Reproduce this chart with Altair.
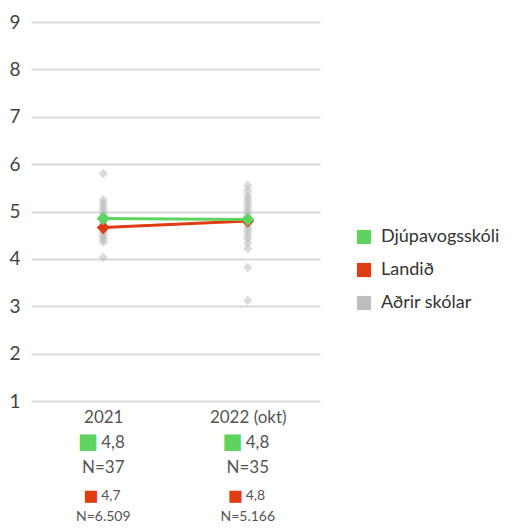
import altair as alt
import pandas as pd

years = ["2021", "2022 (okt)"]
school_name = "Djúpavogsskóli"
national_name = "Landið"
others_name = "Aðrir skólar"
school_vals = [4.85, 4.83]
national_vals = [4.66, 4.80]
school_lbl = ["4,8", "4,8"]
school_n = ["N=37", "N=35"]
national_lbl = ["4,7", "4,8"]
national_n = ["N=6.509", "N=5.166"]
others_2021 = [5.8, 5.25, 5.18, 5.12, 5.06, 5.0, 4.95, 4.9, 4.85, 4.8, 4.75, 4.7,
               4.65, 4.6, 4.55, 4.5, 4.45, 4.4, 4.35, 4.03]
others_2022 = [5.55, 5.45, 5.35, 5.28, 5.22, 5.15, 5.08, 5.02, 4.96, 4.9, 4.85,
               4.8, 4.75, 4.7, 4.64, 4.58, 4.5, 4.42, 4.33, 4.22, 3.82, 3.12]

GREEN = "#5fd35f"
RED = "#e03c14"
GREY = "#bdbdbd"
FONT = "Lato"
TXT = "#555555"

series = [school_name, national_name, others_name]
colors = [GREEN, RED, GREY]

lines = pd.DataFrame(
    [{"year": y, "value": v, "series": national_name} for y, v in zip(years, national_vals)]
    + [{"year": y, "value": v, "series": school_name} for y, v in zip(years, school_vals)]
)
lines["order"] = lines["series"].map({national_name: 0, school_name: 1})

others = pd.DataFrame(
    [{"year": years[0], "value": v, "series": others_name} for v in others_2021]
    + [{"year": years[1], "value": v, "series": others_name} for v in others_2022]
)

labels = pd.DataFrame({
    "year": years,
    "s_lbl": school_lbl,
    "s_n": school_n,
    "n_lbl": national_lbl,
    "n_n": national_n,
})

W, H = 289, 379

xenc = alt.X("year:N", sort=years, title=None,
             scale=alt.Scale(type="point", padding=0.5),
             axis=alt.Axis(labelAngle=0, ticks=False, domain=False, grid=False,
                           labelFontSize=17, labelColor=TXT, labelFont=FONT,
                           labelPadding=8))
yenc = alt.Y("value:Q", title=None,
             scale=alt.Scale(domain=[1, 9], nice=False, zero=False),
             axis=alt.Axis(values=list(range(1, 10)), ticks=False, domain=False,
                           gridColor="#d9d9d9", gridWidth=2, labelFontSize=19,
                           labelColor="#444444", labelFont=FONT, labelPadding=11))
cenc = alt.Color("series:N",
                 scale=alt.Scale(domain=series, range=colors),
                 legend=alt.Legend(title=None, orient="none", legendX=324, legendY=206,
                                   symbolType="square", symbolSize=200,
                                   symbolOpacity=1, symbolStrokeWidth=0,
                                   labelFontSize=18, labelColor="#333333",
                                   labelFont=FONT, rowPadding=15, labelOffset=8))

pts_others = alt.Chart(others).mark_point(
    shape="diamond", filled=True, size=90, opacity=0.55, color="#c8c8c8"
).encode(x=xenc, y=yenc, color=cenc)

line = alt.Chart(lines).mark_line(strokeWidth=3).encode(
    x=xenc, y=yenc, color=alt.Color("series:N", scale=alt.Scale(domain=series, range=colors), legend=None),
    detail="series:N", order="order:Q")

pts_red = alt.Chart(lines[lines["series"] == national_name]).mark_point(
    shape="diamond", filled=True, size=170, opacity=1, color=RED).encode(x=xenc, y=yenc)
pts_green = alt.Chart(lines[lines["series"] == school_name]).mark_point(
    shape="diamond", filled=True, size=170, opacity=1, color=GREEN).encode(x=xenc, y=yenc)

base = alt.Chart(labels)
def txt(field, yv, size, dx=0, align="center", color=TXT, text_value=None):
    m = base.mark_text(fontSize=size, font=FONT, color=color, align=align, dx=dx, baseline="middle")
    enc = dict(x=xenc, y=alt.value(yv))
    if text_value is not None:
        enc["text"] = alt.value(text_value)
    else:
        enc["text"] = alt.Text(field + ":N")
    return m.encode(**enc)

row2 = H + 42
row3 = H + 67
row4 = H + 95
row5 = H + 116
annot = [
    txt(None, row2, 34, dx=-5, align="right", color=GREEN, text_value="■"),
    txt("s_lbl", row2, 17, dx=-2, align="left"),
    txt("s_n", row3, 17),
    txt(None, row4, 25, dx=-5, align="right", color=RED, text_value="■"),
    txt("n_lbl", row4, 14, dx=-2, align="left"),
    txt("n_n", row5, 14),
]

chart = alt.layer(pts_others, line, pts_red, pts_green, *annot).properties(
    width=W, height=H,
    autosize=alt.AutoSizeParams(type="none"),
    padding={"left": 23, "top": 14, "right": 200, "bottom": 130},
).configure_view(stroke=None).resolve_scale(color="independent")

chart.save("out.html", embed_options={"renderer": "svg", "actions": False})
